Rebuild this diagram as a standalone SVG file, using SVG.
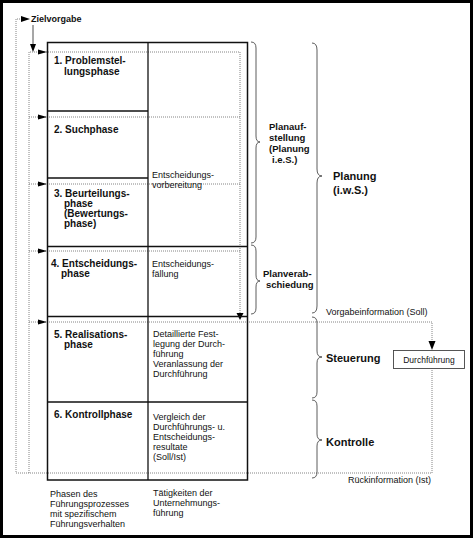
<svg xmlns="http://www.w3.org/2000/svg" width="473" height="538" viewBox="0 0 473 538">
<style>
text{font-family:"Liberation Sans",Arial,sans-serif;fill:#111}
.b{font-weight:bold;font-size:10px}
.r{font-size:9px}
.rb{font-weight:bold;font-size:9.5px}
.big{font-weight:bold;font-size:11px}
.tbl{fill:none;stroke:#111;stroke-width:1.5}
.div{stroke:#111;stroke-width:1.3;fill:none}
.dot{stroke:#666;stroke-width:0.8;stroke-dasharray:1 1;fill:none}
.sol{stroke:#222;stroke-width:0.8;fill:none}
.brace{stroke:#333;stroke-width:0.8;fill:none}
.ah{fill:#000}
</style>
<rect x="0" y="0" width="473" height="538" fill="#fff"/>
<rect x="1.5" y="1.5" width="470" height="535" fill="none" stroke="#000" stroke-width="3"/>

<g id="connectors">
  <!-- feedback loop -->
  <polyline class="dot" points="432,368 432,473 16,473 16,19 21,19"/>
  <polygon class="ah" points="21,16 30,19 21,22"/>
  <!-- Zielvorgabe down arrow -->
  <line class="sol" x1="33" y1="25" x2="33" y2="45"/>
  <polygon class="ah" points="30,44 33,52 36,44"/>
  <!-- left distribution line -->
  <polyline class="dot" points="29,473 29,52 240,52 240,313"/>
  <polygon class="ah" points="236.5,313 240,320 243.5,313"/>
  <line class="dot" x1="29" y1="117" x2="240" y2="117"/>
  <line class="dot" x1="29" y1="184" x2="240" y2="184"/>
  <line class="dot" x1="29" y1="251" x2="240" y2="251"/>
  <polyline class="dot" points="29,322 432,322 432,342"/>
  <polygon class="ah" points="428.5,341 432,350 435.5,341"/>
  <!-- arrows into rows -->
  <polygon class="ah" points="38,49.5 47,52 38,54.5"/>
  <polygon class="ah" points="38,114.5 47,117 38,119.5"/>
  <polygon class="ah" points="38,181.5 47,184 38,186.5"/>
  <polygon class="ah" points="38,248.5 47,251 38,253.5"/>
  <polygon class="ah" points="38,319.5 47,322 38,324.5"/>
</g>

<g id="table">
  <rect class="tbl" x="47.5" y="42.5" width="200" height="437.5"/>
  <line class="div" x1="148" y1="42.5" x2="148" y2="480"/>
  <line class="div" x1="47.5" y1="111" x2="148" y2="111"/>
  <line class="div" x1="47.5" y1="178" x2="148" y2="178"/>
  <line class="div" x1="47.5" y1="246.5" x2="247.5" y2="246.5"/>
  <line class="div" x1="47.5" y1="316.5" x2="247.5" y2="316.5"/>
  <line class="div" x1="47.5" y1="402" x2="247.5" y2="402"/>
</g>

<g id="zielvorgabe"><text class="b" x="31" y="22" style="font-size:9px">Zielvorgabe</text></g>

<g id="phase1"><text class="b" x="54" y="64">1. Problemstel-</text><text class="b" x="64" y="75">lungsphase</text></g>
<g id="phase2"><text class="b" x="54" y="133">2. Suchphase</text></g>
<g id="phase3"><text class="b" x="54" y="197">3. Beurteilungs-</text><text class="b" x="64" y="207">phase</text><text class="b" x="64" y="217">(Bewertungs-</text><text class="b" x="64" y="227">phase)</text></g>
<g id="phase4"><text class="b" x="51" y="267">4. Entscheidungs-</text><text class="b" x="61" y="277">phase</text></g>
<g id="phase5"><text class="b" x="54" y="338">5. Realisations-</text><text class="b" x="64" y="348">phase</text></g>
<g id="phase6"><text class="b" x="54" y="418">6. Kontrollphase</text></g>

<g id="act1"><text class="r" x="152" y="178">Entscheidungs-</text><text class="r" x="152" y="188">vorbereitung</text></g>
<g id="act2"><text class="r" x="152" y="267">Entscheidungs-</text><text class="r" x="152" y="277">fällung</text></g>
<g id="act3"><text class="r" x="153" y="337">Detaillierte Fest-</text><text class="r" x="153" y="347">legung der Durch-</text><text class="r" x="153" y="357">führung</text><text class="r" x="153" y="367">Veranlassung der</text><text class="r" x="153" y="377">Durchführung</text></g>
<g id="act4"><text class="r" x="153" y="420">Vergleich der</text><text class="r" x="153" y="430">Durchführungs- u.</text><text class="r" x="153" y="440">Entscheidungs-</text><text class="r" x="153" y="450">resultate</text><text class="r" x="153" y="460">(Soll/Ist)</text></g>

<g id="caption-left"><text class="r" x="50" y="497">Phasen des</text><text class="r" x="50" y="507">Führungsprozesses</text><text class="r" x="50" y="517">mit spezifischem</text><text class="r" x="50" y="527">Führungsverhalten</text></g>
<g id="caption-right"><text class="r" x="153" y="496">Tätigkeiten der</text><text class="r" x="153" y="506">Unternehmungs-</text><text class="r" x="153" y="516">führung</text></g>

<g id="planaufstellung">
  <path class="brace" d="M251,42 Q256,42 256,48 L256,136 Q256,142 260,142 Q256,142 256,148 L256,237 Q256,243 251,243"/>
  <text class="rb" x="269" y="130">Planauf-</text><text class="rb" x="269" y="141">stellung</text><text class="rb" x="269" y="152">(Planung</text><text class="rb" x="272" y="163">i.e.S.)</text>
</g>
<g id="planverabschiedung">
  <path class="brace" d="M251,245 Q256,245 256,251 L256,275 Q256,281 260,281 Q256,281 256,287 L256,308 Q256,314 251,314"/>
  <text class="rb" x="263" y="277">Planverab-</text><text class="rb" x="266" y="288">schiedung</text>
</g>
<g id="planung">
  <path class="brace" d="M312,43 Q317,43 317,50 L317,169 Q317,176 322,176 Q317,176 317,183 L317,306 Q317,313 312,313"/>
  <text class="big" x="333" y="180">Planung</text><text class="big" x="333" y="194">(i.w.S.)</text>
</g>
<g id="steuerung">
  <path class="brace" d="M312,317 Q317,317 317,323 L317,351 Q317,357 322,357 Q317,357 317,363 L317,392 Q317,398 312,398"/>
  <text class="big" x="326" y="362">Steuerung</text>
</g>
<g id="kontrolle">
  <path class="brace" d="M312,400 Q317,400 317,406 L317,434 Q317,440 322,440 Q317,440 317,446 L317,472 Q317,478 312,478"/>
  <text class="big" x="326" y="446">Kontrolle</text>
</g>
<g id="vorgabe"><text class="r" x="326" y="315">Vorgabeinformation (Soll)</text></g>
<g id="durchfuehrung">
  <rect x="393.5" y="350.5" width="71" height="18" fill="#fff" stroke="#444" stroke-width="0.9"/>
  <text class="r" x="429" y="362.5" text-anchor="middle" style="font-size:8.5px">Durchführung</text>
</g>
<g id="rueck"><text class="r" x="431" y="483" text-anchor="end">Rückinformation (Ist)</text></g>
</svg>
